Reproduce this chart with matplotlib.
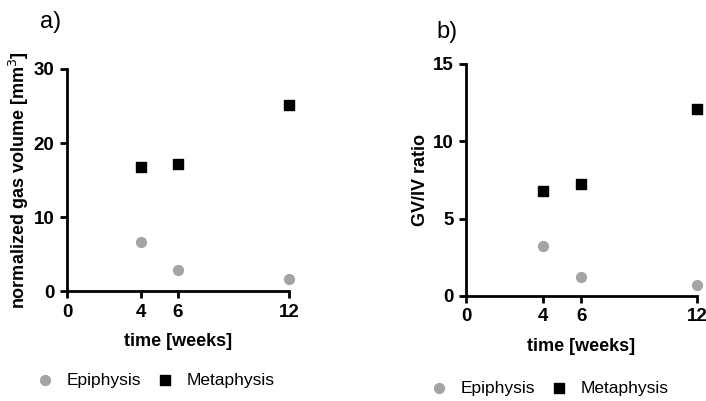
import matplotlib.pyplot as plt

plt.rcParams['font.family'] = ['Liberation Sans', 'DejaVu Sans']

weeks = [4, 6, 12]
gas_epi = [6.6, 2.8, 1.6]
gas_meta = [16.7, 17.1, 25.2]
ratio_epi = [3.2, 1.2, 0.7]
ratio_meta = [6.8, 7.25, 12.1]

grey = '#a4a4a4'

fig = plt.figure(figsize=(7.06, 4.01), dpi=100)
ax1 = fig.add_axes([0.095, 0.274, 0.314, 0.554])
ax2 = fig.add_axes([0.660, 0.262, 0.327, 0.579])


def style(ax, ymax, ystep, ylabel, ypad):
    ax.set_xlim(0, 12)
    ax.set_ylim(0, ymax)
    ax.set_xticks([0, 4, 6, 12])
    ax.set_yticks(range(0, ymax + 1, ystep))
    for s in ['top', 'right']:
        ax.spines[s].set_visible(False)
    for s in ['left', 'bottom']:
        ax.spines[s].set_linewidth(2)
    ax.tick_params(width=2, length=5, labelsize=13.5, pad=4)
    for lab in ax.get_xticklabels() + ax.get_yticklabels():
        lab.set_fontweight('bold')
    ax.set_xlabel('time [weeks]', fontsize=13, fontweight='bold', labelpad=9)
    ax.set_ylabel(ylabel, fontsize=13, fontweight='bold', labelpad=ypad)


for ax, epi, meta in [(ax1, gas_epi, gas_meta), (ax2, ratio_epi, ratio_meta)]:
    ax.scatter(weeks, epi, s=50, color=grey, marker='o', clip_on=False, zorder=3, label='Epiphysis')
    ax.scatter(weeks, meta, s=60, color='black', marker='s', clip_on=False, zorder=3, label='Metaphysis')

style(ax1, 30, 10, 'normalized gas volume [mm$^3$]', 2)
style(ax2, 15, 5, 'GV/IV ratio', 3)

leg_kw = dict(ncol=2, frameon=False, fontsize=12.5, handlelength=1.0, handletextpad=0.76,
              columnspacing=0.88, borderpad=0, borderaxespad=0, loc='center left',
              bbox_transform=fig.transFigure)
ax1.legend(bbox_to_anchor=(0.051, 0.052), **leg_kw)
ax2.legend(bbox_to_anchor=(0.609, 0.032), **leg_kw)

fig.text(0.057, 0.93, 'a)', fontsize=17)
fig.text(0.618, 0.905, 'b)', fontsize=17)

fig.savefig('out.png', dpi=100)
